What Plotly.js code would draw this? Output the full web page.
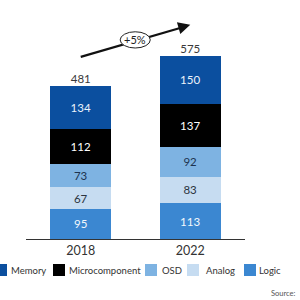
<!DOCTYPE html>
<html><head><meta charset="utf-8">
<script src="https://cdn.plot.ly/plotly-3.0.1.min.js"></script>
<style>html,body{margin:0;padding:0;background:#fff;}#chart{width:300px;height:300px;}</style>
</head><body><div id="chart"></div>
<script>
const years = ['2018', '2022'];
const seriesNames = ['Logic', 'Analog', 'OSD', 'Microcomponent', 'Memory'];
const logic = [95, 113];
const analog = [67, 83];
const osd = [73, 92];
const micro = [112, 137];
const memory = [134, 150];
const legendOrder = ['Memory', 'Microcomponent', 'OSD', 'Analog', 'Logic'];
const sourceText = 'Source:';

const colors = {Logic:'#3b87d1', Analog:'#c6dcf1', OSD:'#7eb3e2', Microcomponent:'#000000', Memory:'#0b4f9f'};
const labelColors = {Logic:'#f2f7fc', Analog:'#2b3440', OSD:'#1d3350', Microcomponent:'#ffffff', Memory:'#eaf2fb'};
const values = {Logic:logic, Analog:analog, OSD:osd, Microcomponent:micro, Memory:memory};
const FONT = 'Lato, Roboto, sans-serif';

const traces = seriesNames.map(n => ({
  type:'bar', name:n, x:years, y:values[n],
  marker:{color:colors[n], line:{width:0}},
  text:values[n].map(String), textposition:'inside', insidetextanchor:'middle',
  textfont:{family:FONT, size:11.5, color:labelColors[n]},
  hoverinfo:'skip', showlegend:false
}));
const totals = years.map((_, i) => seriesNames.reduce((s, n) => s + values[n][i], 0));
traces.push({type:'scatter', mode:'text', x:years, y:totals, text:totals.map(String),
  textposition:'top center', textfont:{family:FONT, size:11.5, color:'#3a3a3a'},
  hoverinfo:'skip', showlegend:false, cliponaxis:false});

const cagr = Math.round((Math.pow(totals[1]/totals[0], 1/4) - 1) * 100);

// layout geometry (pixels)
const L = 26, R = 55, T = 20, B = 61, W = 300, H = 300;
const pw = W - L - R, ph = H - T - B;
const px = x => (x - L) / pw;
const py = y => (H - B - y) / ph;

const legendPos = [
  {sw:-5, tx:10},
  {sw:53, tx:68},
  {sw:145, tx:161},
  {sw:187, tx:205},
  {sw:244, tx:258}
];
const shapes = [];
const annotations = [];
// growth arrow: line, ellipse on top, arrowhead
shapes.push({type:'line', xref:'x', yref:'y', x0:0, y0:572, x1:0.97, y1:669,
  line:{color:'#111', width:2.2}, layer:'above'});
shapes.push({type:'circle', xref:'x', yref:'y', x0:0.36, x1:0.635, y0:600, y1:651,
  fillcolor:'#ffffff', line:{color:'#222', width:1}, layer:'above'});
annotations.push({xref:'x', yref:'y', axref:'x', ayref:'y', x:1, y:673, ax:0.9, ay:663, text:'',
  showarrow:true, arrowhead:2, arrowsize:1.1, arrowwidth:2.2, arrowcolor:'#111'});
annotations.push({xref:'x', yref:'y', x:0.4975, y:626, text:'+' + cagr + '%', showarrow:false,
  font:{family:FONT, size:11, color:'#222'}});

legendOrder.forEach((n, i) => {
  const p = legendPos[i];
  shapes.push({type:'rect', xref:'paper', yref:'paper', x0:px(p.sw), x1:px(p.sw+12), y0:py(276), y1:py(264),
    fillcolor:colors[n], line:{width:0}, layer:'above'});
  annotations.push({xref:'paper', yref:'paper', x:px(p.tx), y:py(270), xanchor:'left', yanchor:'middle',
    text:n, showarrow:false, borderpad:0, font:{family:FONT, size:9.5, color:'#333'}});
});
annotations.push({xref:'paper', yref:'paper', x:px(297), y:py(293), xanchor:'right', yanchor:'middle',
  text:sourceText, showarrow:false, borderpad:0, font:{family:FONT, size:7.5, color:'#555'}});

const layout = {
  width:W, height:H, margin:{l:L, r:R, t:T, b:B, pad:0, autoexpand:false},
  paper_bgcolor:'#fff', plot_bgcolor:'#fff',
  barmode:'stack', bargap:0.443,
  xaxis:{type:'category', range:[-0.5, 1.5], showline:true, linecolor:'#333', linewidth:1,
    ticks:'', showgrid:false, zeroline:false, tickfont:{family:FONT, size:12.5, color:'#333'}, fixedrange:true},
  yaxis:{range:[0, 688], visible:false, showgrid:false, zeroline:false, fixedrange:true},
  showlegend:false, shapes:shapes, annotations:annotations
};
Plotly.newPlot('chart', traces, layout, {displayModeBar:false, staticPlot:true});
</script></body></html>
